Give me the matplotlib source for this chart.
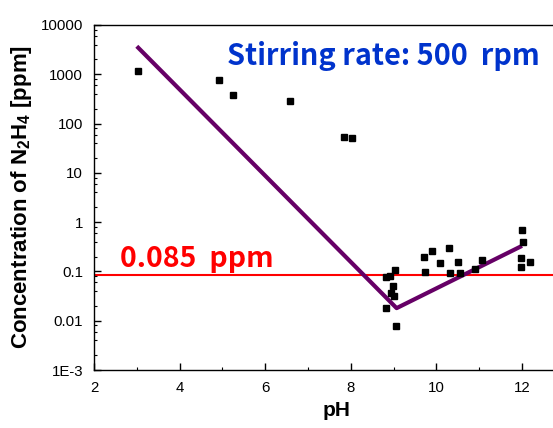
import matplotlib
matplotlib.use("Agg")
import matplotlib.pyplot as plt
from matplotlib.ticker import LogLocator, NullFormatter, MultipleLocator
import numpy as np

# === DATA ===
ph = [3.03, 4.93, 5.24, 6.57, 7.85, 8.03,
      9.03, 8.92, 8.82, 8.99, 8.95, 9.01, 8.82, 9.06,
      9.72, 9.89, 9.74, 10.08, 10.29, 10.51, 10.31, 10.54,
      11.07, 10.91, 12.0, 12.03, 11.98, 12.18, 11.98]
conc = [1150, 780, 375, 283, 54, 52,
        0.107, 0.081, 0.078, 0.051, 0.037, 0.032, 0.018, 0.0079,
        0.20, 0.26, 0.096, 0.15, 0.30, 0.155, 0.091, 0.095,
        0.17, 0.112, 0.69, 0.39, 0.19, 0.155, 0.125]

fit_ph = [3.0, 9.07, 12.0]
fit_conc = [3700, 0.018, 0.33]

limit_ppm = 0.085

ytick_vals = [1e-3, 1e-2, 1e-1, 1, 10, 100, 1000, 10000]
ytick_labels = ["1E-3", "0.01", "0.1", "1", "10", "100", "1000", "10000"]
xtick_vals = [2, 4, 6, 8, 10, 12]

# === Styling ===
plt.rcParams.update({
    'font.family': ['Liberation Sans', 'DejaVu Sans'],
    'mathtext.fontset': 'custom',
    'mathtext.rm': 'Liberation Sans:bold',
    'mathtext.default': 'rm',
})

fig = plt.figure(figsize=(5.53, 4.28), dpi=100)
ax = fig.add_axes([94 / 553, 58 / 428, 459 / 553, 345 / 428])

ax.plot(ph, conc, 's', color='black', markersize=5, zorder=3)
ax.plot(fit_ph, fit_conc, '-', color='#660066', linewidth=3, zorder=2,
        solid_capstyle='butt')
ax.axhline(limit_ppm, color='#ff0000', linewidth=1.5, zorder=1)

ax.set_yscale('log')
ax.set_ylim(1e-3, 1e4)
ax.set_xlim(2, 2 + 459 / 42.8)

ax.set_yticks(ytick_vals)
ax.set_yticklabels(ytick_labels)
ax.yaxis.set_minor_locator(LogLocator(base=10, subs=(2, 4, 6, 8), numticks=20))
ax.yaxis.set_minor_formatter(NullFormatter())
ax.set_xticks(xtick_vals)
ax.xaxis.set_minor_locator(MultipleLocator(1))

ax.tick_params(which='major', direction='in', length=5, width=1, labelsize=10.8, pad=8)
ax.tick_params(which='minor', direction='in', length=2.5, width=0.8)
ax.tick_params(top=False, right=False, which='both')
ax.spines['right'].set_visible(False)
for s in ['top', 'bottom', 'left']:
    ax.spines[s].set_linewidth(1.0)

ax.set_ylabel(r"Concentration of N$_{2}$H$_{4}$ [ppm]", fontsize=16, fontweight='bold')
ax.yaxis.set_label_coords(-0.131, 0.5)
ax.set_xlabel("pH", fontsize=15, fontweight='bold', va='top')
ax.xaxis.set_label_coords(0.529, -0.090)

ax.text(0.290, 0.884, "Stirring rate: 500  rpm", transform=ax.transAxes,
        color='#0033cc', fontsize=20.8, fontweight='bold',
        family=['Noto Sans CJK KR', 'DejaVu Sans'], ha='left', va='baseline')
ax.text(0.057, 0.299, "0.085  ppm", transform=ax.transAxes,
        color='#ff0000', fontsize=20.5, fontweight='bold',
        family=['Noto Sans CJK KR', 'DejaVu Sans'], ha='left', va='baseline')

fig.savefig("out.png", dpi=100)
